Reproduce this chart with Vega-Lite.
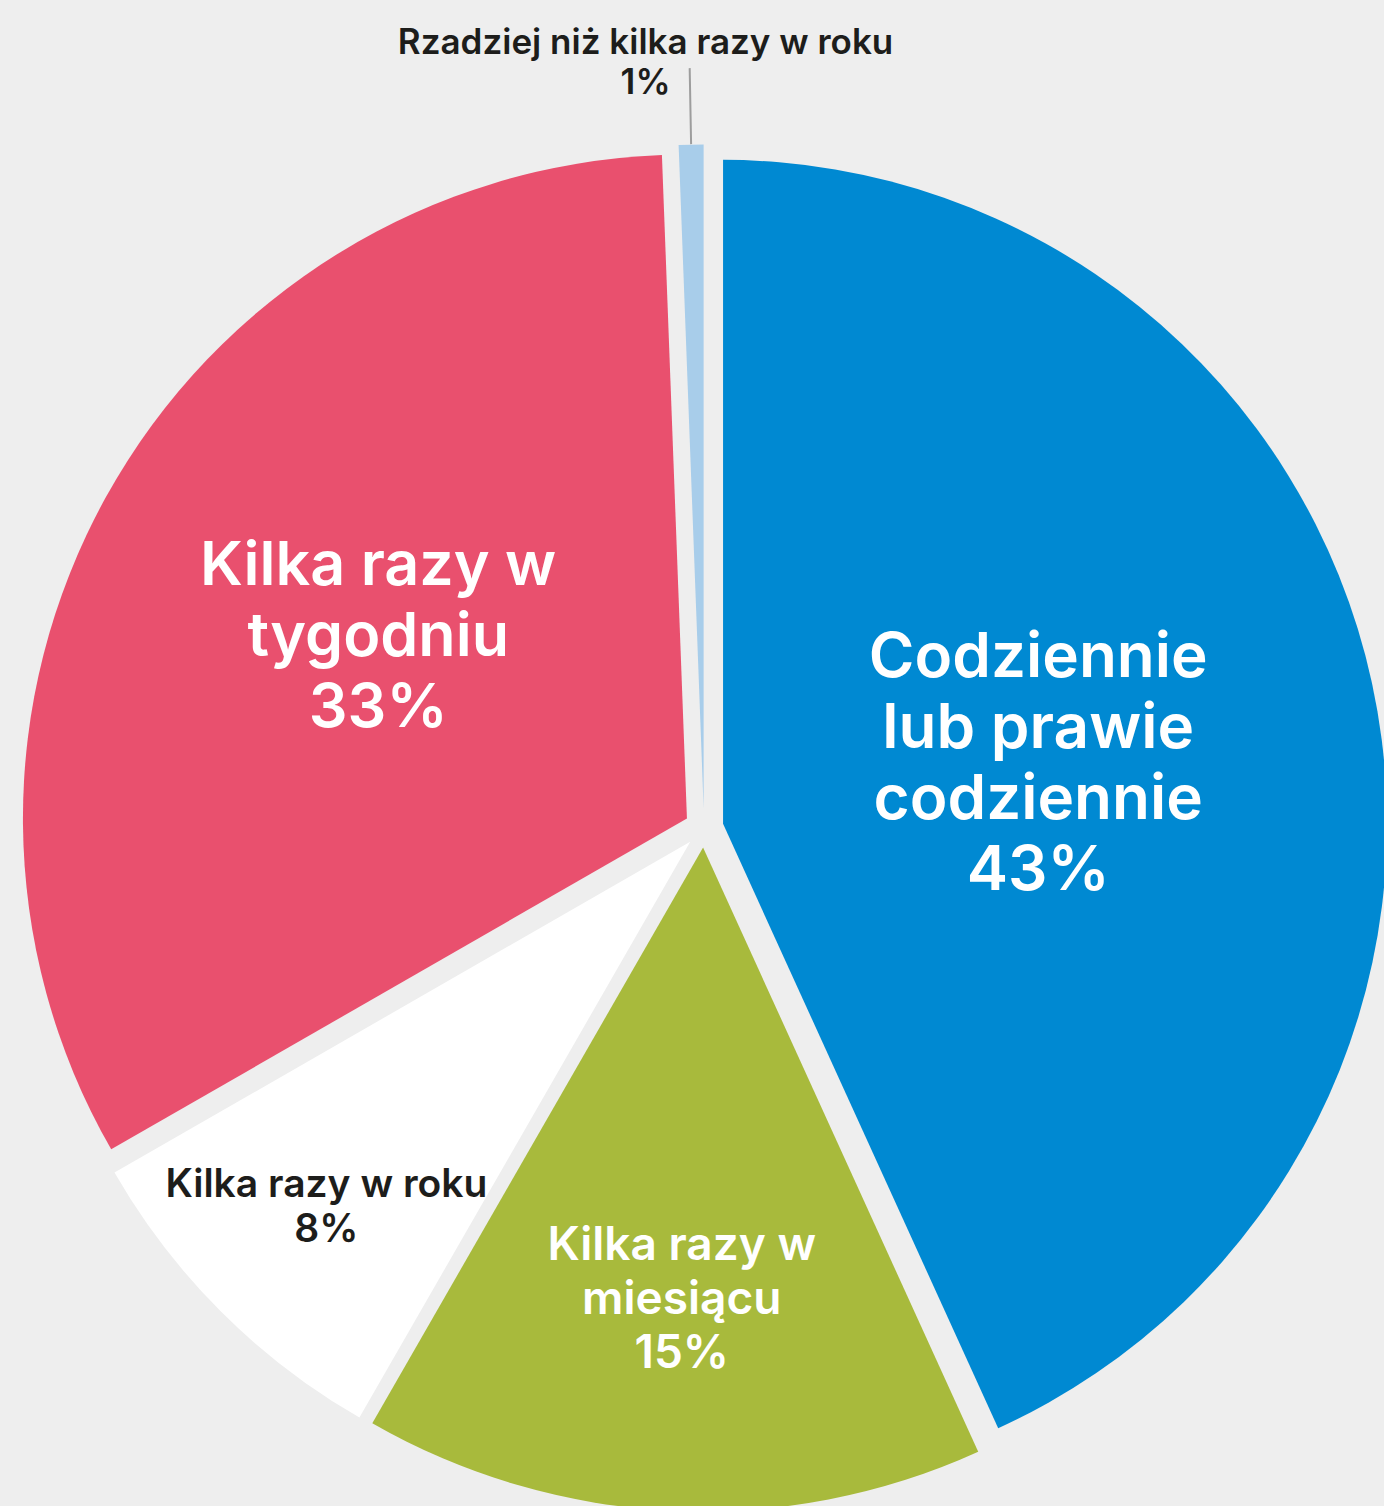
{
  "$schema": "https://vega.github.io/schema/vega-lite/v6.json",
  "autosize": "none",
  "width": 1360,
  "height": 1356,
  "padding": {"left": 24, "top": 150, "right": 0, "bottom": 0},
  "background": "#eeeeee",
  "config": {"view": {"stroke": null}, "text": {"font": "Inter"}},
  "data": {
    "values": [
      {"category": "Codziennie lub prawie codziennie", "order": 1, "value": 43.2, "label": ["Codziennie", "lub prawie", "codziennie", "43%"]},
      {"category": "Kilka razy w miesiącu", "order": 2, "value": 15.1, "label": ["Kilka razy w", "miesiącu", "15%"]},
      {"category": "Kilka razy w roku", "order": 3, "value": 8.4, "label": ["Kilka razy w roku", "8%"]},
      {"category": "Kilka razy w tygodniu", "order": 4, "value": 32.7, "label": ["Kilka razy w", "tygodniu", "33%"]},
      {"category": "Rzadziej niż kilka razy w roku", "order": 5, "value": 0.6, "label": ["Rzadziej niż kilka razy w roku", "1%"]}
    ]
  },
  "encoding": {
    "theta": {"field": "value", "type": "quantitative", "stack": true},
    "order": {"field": "order", "type": "quantitative"}
  },
  "layer": [
    {
      "mark": {
        "type": "arc",
        "outerRadius": 664,
        "xOffset": {"expr": "19.5*sin(PI*(datum.value_start+datum.value_end)/100)"},
        "yOffset": {"expr": "-19.5*cos(PI*(datum.value_start+datum.value_end)/100)"}
      },
      "encoding": {
        "color": {
          "field": "category",
          "type": "nominal",
          "legend": null,
          "scale": {
            "domain": ["Codziennie lub prawie codziennie", "Kilka razy w miesiącu", "Kilka razy w roku", "Kilka razy w tygodniu", "Rzadziej niż kilka razy w roku"],
            "range": ["#0089d2", "#a8ba3c", "#ffffff", "#e9506e", "#a8cdea"]
          }
        }
      }
    },
    {
      "mark": {"type": "arc", "padAngle": 1, "innerRadius": 684, "outerRadius": 760, "fill": null, "stroke": "#9d9d9d", "strokeWidth": 2},
      "encoding": {
        "strokeOpacity": {"condition": {"test": "datum.order == 5", "value": 1}, "value": 0}
      }
    },
    {
      "mark": {"type": "text", "radius": 342, "dy": -97, "align": "center", "baseline": "middle", "fontSize": 62, "fontWeight": 600, "lineHeight": 71, "fill": "#ffffff"},
      "encoding": {"text": {"condition": {"test": "datum.order == 1", "field": "label"}, "value": ""}}
    },
    {
      "mark": {"type": "text", "radius": 472, "dy": -53, "align": "center", "baseline": "middle", "fontSize": 46, "fontWeight": 600, "lineHeight": 54, "fill": "#ffffff"},
      "encoding": {"text": {"condition": {"test": "datum.order == 2", "field": "label"}, "value": ""}}
    },
    {
      "mark": {"type": "text", "radius": 534, "dy": -21, "align": "center", "baseline": "middle", "fontSize": 39, "fontWeight": 600, "lineHeight": 45, "fill": "#1d1d1b"},
      "encoding": {"text": {"condition": {"test": "datum.order == 3", "field": "label"}, "value": ""}}
    },
    {
      "mark": {"type": "text", "radius": 377, "dy": -78, "dx": 4, "align": "center", "baseline": "middle", "fontSize": 61, "fontWeight": 600, "lineHeight": 71, "fill": "#ffffff"},
      "encoding": {"text": {"condition": {"test": "datum.order == 4", "field": "label"}, "value": ""}}
    },
    {
      "mark": {"type": "text", "radius": 766, "dx": -44, "dy": -19, "align": "center", "baseline": "middle", "fontSize": 35, "fontWeight": 600, "lineHeight": 40, "fill": "#1d1d1b"},
      "encoding": {"text": {"condition": {"test": "datum.order == 5", "field": "label"}, "value": ""}}
    }
  ]
}
